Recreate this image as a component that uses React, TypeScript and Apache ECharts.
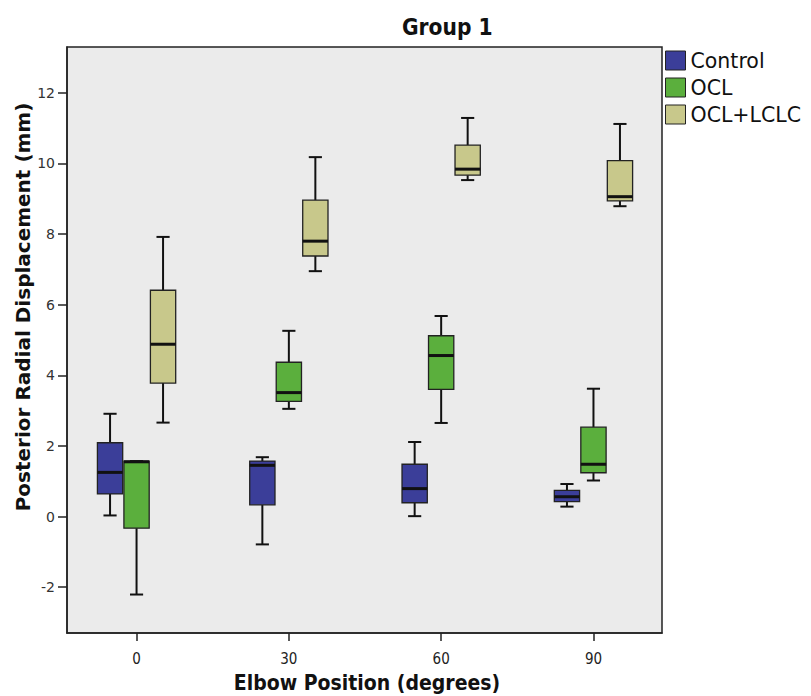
import React, { useEffect, useRef } from "react";
import * as echarts from "echarts";

const categories = [0, 30, 60, 90];
const seriesNames = ["Control", "OCL", "OCL+LCLC"];
// [min, Q1, median, Q3, max]
const control = [
  [0.03, 0.64, 1.25, 2.09, 2.91],
  [-0.79, 0.33, 1.45, 1.57, 1.68],
  [0.01, 0.39, 0.79, 1.48, 2.11],
  [0.28, 0.42, 0.56, 0.74, 0.92],
];
const ocl = [
  [-2.21, -0.33, 1.55, 1.57, 1.57],
  [3.05, 3.26, 3.51, 4.37, 5.26],
  [2.65, 3.6, 4.56, 5.12, 5.68],
  [1.02, 1.24, 1.48, 2.53, 3.62],
];
const oclLclc = [
  [2.66, 3.78, 4.88, 6.41, 7.92],
  [6.95, 7.38, 7.8, 8.96, 10.18],
  [9.53, 9.67, 9.84, 10.52, 11.29],
  [8.79, 8.94, 9.06, 10.08, 11.12],
];
const yTicks = [-2, 0, 2, 4, 6, 8, 10, 12];
const colors = ["#3B3E99", "#5BAF3D", "#C8C88B"];

const condensed = "Liberation Sans Narrow, DejaVu Sans Condensed, sans-serif";

export default function App() {
  const ref = useRef<HTMLDivElement>(null);
  useEffect(() => {
    if (!ref.current) return;
    const chart = echarts.init(ref.current, null, { renderer: "svg" });
    const groups = [control, ocl, oclLclc];
    const renderItem = (params: any, api: any) => {
      const x = api.value(0);
      const band = api.size([30, 0])[0];
      const off = (params.seriesIndex - 1) * band * 0.174;
      const bw = band * 0.166;
      const cx = api.coord([x, 0])[0] + off;
      const ys = [1, 2, 3, 4, 5].map((i) => api.coord([x, api.value(i)])[1]);
      const capW = bw * 0.52;
      const color = colors[params.seriesIndex];
      const line = (x1: number, y1: number, x2: number, y2: number, w: number) => ({
        type: "line",
        shape: { x1, y1, x2, y2 },
        style: { stroke: "#111", lineWidth: w },
      });
      return {
        type: "group",
        children: [
          line(cx, ys[3], cx, ys[4], 2),
          line(cx, ys[0], cx, ys[1], 2),
          line(cx - capW / 2, ys[4], cx + capW / 2, ys[4], 2),
          line(cx - capW / 2, ys[0], cx + capW / 2, ys[0], 2),
          {
            type: "rect",
            shape: { x: cx - bw / 2, y: ys[3], width: bw, height: ys[1] - ys[3] },
            style: { fill: color, stroke: "#222", lineWidth: 1.3 },
          },
          line(cx - bw / 2, ys[2], cx + bw / 2, ys[2], 3),
        ],
      };
    };
    chart.setOption({
      animation: false,
      title: {
        text: "Group 1",
        left: 397,
        top: 10,
        textStyle: { fontSize: 22.5, fontWeight: "bold", color: "#111", fontFamily: condensed },
      },
      legend: {
        data: seriesNames,
        orient: "vertical",
        left: 665,
        top: 50,
        padding: 0,
        itemWidth: 20,
        itemHeight: 19,
        itemGap: 6,
        icon: "rect",
        itemStyle: { borderColor: "#222", borderWidth: 1 },
        textStyle: { fontSize: 20.5, color: "#111", fontFamily: "DejaVu Sans" },
      },
      grid: {
        left: 67,
        right: 149,
        top: 47,
        bottom: 63,
        show: true,
        backgroundColor: "#EBEBEB",
        borderColor: "#222",
        borderWidth: 1.5,
      },
      xAxis: {
        type: "value",
        min: -13.7,
        max: 103.5,
        axisLine: { show: true, onZero: false, lineStyle: { color: "#222", width: 1.5 } },
        axisTick: { show: true, length: 8, customValues: categories, lineStyle: { color: "#222", width: 1.5 } },
        axisLabel: {
          customValues: categories,
          margin: 18,
          fontSize: 15,
          color: "#222",
          fontFamily: condensed,
        },
        splitLine: { show: false },
      },
      yAxis: {
        type: "value",
        min: -3.3,
        max: 13.3,
        axisLine: { show: true, onZero: false, lineStyle: { color: "#222", width: 1.5 } },
        axisTick: { show: true, length: 9, customValues: yTicks, lineStyle: { color: "#222", width: 1.5 } },
        axisLabel: {
          customValues: yTicks,
          margin: 12,
          fontSize: 14,
          color: "#333",
          fontFamily: "DejaVu Sans",
        },
        splitLine: { show: false },
      },
      graphic: [
        {
          type: "text",
          x: 23,
          y: 307,
          rotation: Math.PI / 2,
          style: {
            text: "Posterior Radial Displacement (mm)",
            fontSize: 20,
            fontWeight: "bold",
            fill: "#111",
            fontFamily: "DejaVu Sans",
            align: "center",
            verticalAlign: "middle",
          },
        },
        {
          type: "text",
          x: 367,
          y: 683,
          style: {
            text: "Elbow Position (degrees)",
            fontSize: 21,
            fontWeight: "bold",
            fill: "#111",
            fontFamily: condensed,
            align: "center",
            verticalAlign: "middle",
          },
        },
      ],
      series: seriesNames.map((name, si) => ({
        name,
        type: "custom",
        renderItem,
        itemStyle: { color: colors[si], borderColor: "#222", borderWidth: 1 },
        encode: { x: 0, y: [1, 2, 3, 4, 5] },
        data: groups[si].map((d, i) => [categories[i], ...d]),
      })),
    });
    return () => chart.dispose();
  }, []);
  return (
    <div
      ref={ref}
      style={{ position: "absolute", left: 0, top: 0, width: 811, height: 696 }}
    />
  );
}
